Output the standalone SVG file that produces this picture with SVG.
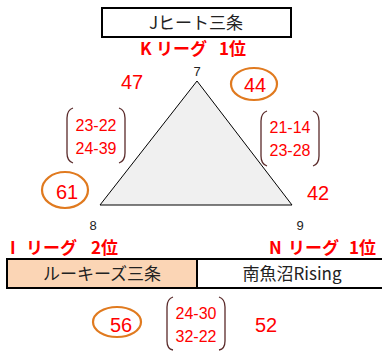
<svg xmlns="http://www.w3.org/2000/svg" width="382" height="351" viewBox="0 0 382 351">
<style>
.box{stroke:#000;stroke-width:2}
.name{font-family:"Noto Sans CJK JP","Noto Sans",sans-serif;font-size:17px;fill:#222;text-anchor:middle}
.lg{font-family:"Noto Sans CJK JP","Liberation Sans",sans-serif;font-size:17px;font-weight:bold;fill:#ff0000}
.num{font-family:"Liberation Sans",sans-serif;font-size:20px;fill:#ff0000;text-anchor:middle}
.sc{font-family:"Liberation Sans",sans-serif;font-size:16px;fill:#ff0000;text-anchor:middle}
.v{font-family:"Liberation Sans",sans-serif;font-size:13px;fill:#222;text-anchor:middle}
.ring{fill:none;stroke:#e07a1f;stroke-width:2.2}
.br{fill:none;stroke:#5a2a2a;stroke-width:1.3}
</style>
<rect width="382" height="351" fill="#fff"/>
<g id="triangle">
<polygon points="197,81 100,205 292,205" fill="#f0f0f0" stroke="#000" stroke-width="1"/>
<text class="v" x="197" y="76">7</text>
<text class="v" x="93" y="230">8</text>
<text class="v" x="300" y="230">9</text>
</g>
<g id="node-jheat">
<rect class="box" x="102" y="8" width="189" height="29" fill="#fff"/>
<text class="name" x="196" y="29">Jヒート三条</text>
<text class="lg" y="55"><tspan x="140">K</tspan><tspan x="156">リーグ</tspan><tspan x="219">1位</tspan></text>
</g>
<g id="node-rookies">
<rect class="box" x="7" y="259" width="190" height="29" fill="#fbd5b5"/>
<text class="name" x="102" y="280">ルーキーズ三条</text>
<text class="lg" y="254"><tspan x="10">I</tspan><tspan x="26">リーグ</tspan><tspan x="91">2位</tspan></text>
</g>
<g id="node-minami">
<rect class="box" x="197" y="259" width="187" height="29" fill="#fff"/>
<text class="name" x="292" y="280">南魚沼Rising</text>
<text class="lg" y="254"><tspan x="269">N</tspan><tspan x="288">リーグ</tspan><tspan x="349">1位</tspan></text>
</g>
<g id="scores">
<text class="num" x="132" y="89">47</text>
<ellipse class="ring" cx="254" cy="84" rx="23" ry="16"/>
<text class="num" x="255" y="92">44</text>
<ellipse class="ring" cx="65" cy="190" rx="23" ry="18"/>
<text class="num" x="67" y="199">61</text>
<text class="num" x="318" y="200">42</text>
<ellipse class="ring" cx="117" cy="322" rx="24" ry="15"/>
<text class="num" x="121" y="332">56</text>
<text class="num" x="266" y="332">52</text>
</g>
<g id="brackets">
<path class="br" d="M73,108 Q67,110 67,118 L67,153 Q67,161 73,163"/>
<path class="br" d="M119,108 Q125,110 125,118 L125,153 Q125,161 119,163"/>
<text class="sc" x="96" y="131">23-22</text>
<text class="sc" x="96" y="154">24-39</text>
<path class="br" d="M267,111 Q261,113 261,121 L261,156 Q261,164 267,166"/>
<path class="br" d="M313,111 Q319,113 319,121 L319,156 Q319,164 313,166"/>
<text class="sc" x="290" y="133">21-14</text>
<text class="sc" x="290" y="156">23-28</text>
<path class="br" d="M173,297 Q167,299 167,307 L167,341 Q167,349 173,350"/>
<path class="br" d="M219,297 Q225,299 225,307 L225,341 Q225,349 219,350"/>
<text class="sc" x="196" y="319">24-30</text>
<text class="sc" x="196" y="342">32-22</text>
</g>
</svg>
